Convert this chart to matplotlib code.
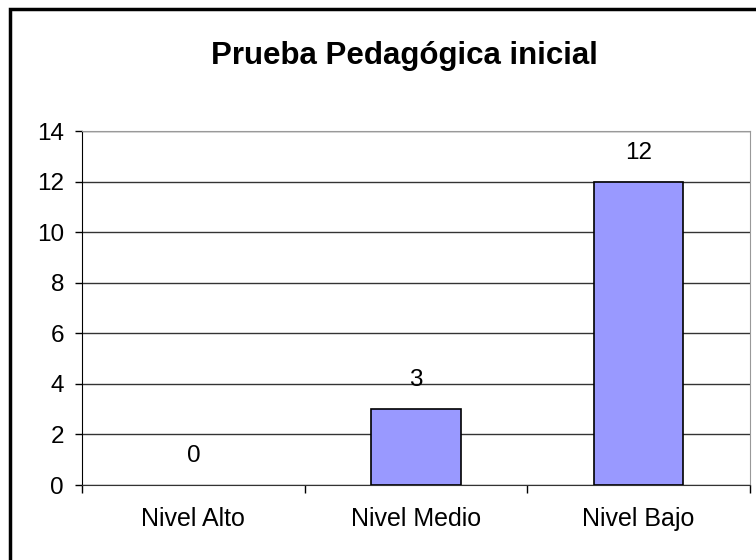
import matplotlib.pyplot as plt
from matplotlib.patches import Rectangle

categories = ['Nivel Alto', 'Nivel Medio', 'Nivel Bajo']
values = [0, 3, 12]
y_ticks = [0, 2, 4, 6, 8, 10, 12, 14]

plt.rcParams['font.family'] = ['Liberation Sans', 'DejaVu Sans']

fig = plt.figure(figsize=(7.56, 5.6), dpi=100)
ax = fig.add_axes([82 / 756, 75 / 560, 668 / 756, 354 / 560])

# outer frame of the chart
fig.patches.append(Rectangle((10 / 756, -0.05), 1.0, 1.0 - 9 / 560 + 0.05,
                             transform=fig.transFigure, fill=False,
                             edgecolor='black', linewidth=2.5))

x = list(range(len(categories)))
bars = ax.bar(x, values, width=0.4, color='#9999FF', edgecolor='black',
              linewidth=1.2, zorder=3)
for b, v in zip(bars, values):
    if v == 0:
        b.set_visible(False)
for xi, v in zip(x, values):
    ax.annotate(str(v), (xi, v), xytext=(0, 13), textcoords='offset points',
                ha='center', va='bottom', fontsize=17.5)

ax.set_xlim(-0.5, 2.5)
ax.set_ylim(0, 14)
ax.set_yticks(y_ticks)
ax.tick_params(axis='y', labelsize=17.5, length=5, direction='out', width=1, pad=8)
ax.set_xticks(x)
ax.set_xticklabels(categories, fontsize=18)
ax.tick_params(axis='x', length=0, pad=16)
# boundary ticks between categories
ax.set_xticks([-0.5, 0.5, 1.5, 2.5], minor=True)
ax.tick_params(axis='x', which='minor', length=6, direction='out', width=1)

ax.yaxis.grid(True, color='#333333', linewidth=1)
ax.set_axisbelow(True)
ax.spines['left'].set_color('black')
ax.spines['bottom'].set_color('#333333')
ax.spines['top'].set_color('#999999')
ax.spines['right'].set_color('#999999')

fig.text(0.535, 0.900, 'Prueba Pedagógica inicial', ha='center', va='center',
         fontsize=22.5, fontweight='bold')

fig.savefig('out.png', dpi=100)
